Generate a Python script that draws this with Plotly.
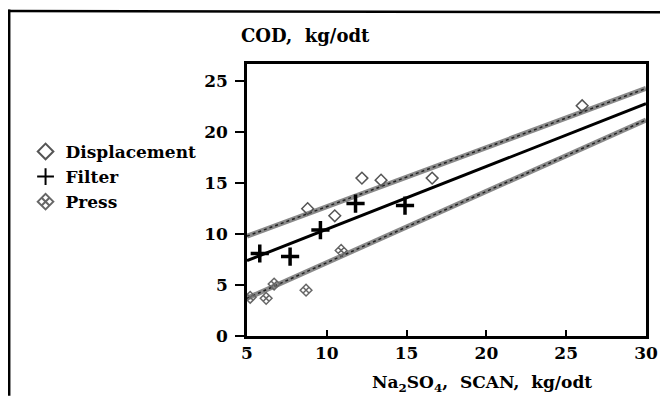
import plotly.graph_objects as go

# Data
disp_x = [8.8, 10.5, 12.2, 13.4, 16.6, 26.0]
disp_y = [12.5, 11.8, 15.5, 15.3, 15.5, 22.6]
filt_x = [5.8, 7.7, 9.6, 11.8, 14.9]
filt_y = [8.1, 7.8, 10.4, 13.0, 12.8]
press_x = [5.2, 6.2, 6.7, 8.7, 10.9]
press_y = [3.8, 3.7, 5.1, 4.5, 8.4]

line_x = [5, 30]
disp_fit = [9.8, 24.3]
filt_fit = [7.4, 22.8]
press_fit = [3.7, 21.2]

x_ticks = [5, 10, 15, 20, 25, 30]
y_ticks = [0, 5, 10, 15, 20, 25]

FONT = "DejaVu Serif"
TXT = dict(family=FONT, size=17, color="black", weight="bold")
fig = go.Figure()

# Fitted lines (hatched style approximated)
for fy in [disp_fit, press_fit]:
    fig.add_trace(go.Scatter(x=line_x, y=fy, mode="lines",
                             line=dict(color="#8a8a8a", width=5),
                             showlegend=False, hoverinfo="skip"))
    fig.add_trace(go.Scatter(x=line_x, y=fy, mode="lines",
                             line=dict(color="#222222", width=1.5, dash="dot"),
                             showlegend=False, hoverinfo="skip"))
fig.add_trace(go.Scatter(x=line_x, y=filt_fit, mode="lines",
                         line=dict(color="black", width=3),
                         showlegend=False, hoverinfo="skip"))

# Points (with legend)
fig.add_trace(go.Scatter(x=disp_x, y=disp_y, mode="markers", name="Displacement",
                         marker=dict(symbol="diamond-open", size=9,
                                     color="#555555", line=dict(width=1.5))))
fig.add_trace(go.Scatter(x=filt_x, y=filt_y, mode="markers", name="Filter",
                         marker=dict(symbol="cross-thin-open", size=13,
                                     color="black", line=dict(width=3.5))))
fig.add_trace(go.Scatter(x=press_x, y=press_y, mode="markers", name="Press",
                         marker=dict(symbol="diamond-x-open", size=9,
                                     color="#666666", line=dict(width=1.5))))

# Page has an 8px body margin, so the figure is 660x388 and shifted by 8px.
fig.update_layout(
    width=660, height=388,
    margin=dict(l=239, r=22, t=56, b=60, autoexpand=False),
    plot_bgcolor="white", paper_bgcolor="white",
    font=TXT,
    showlegend=True,
    legend=dict(x=-0.555, y=0.585, xanchor="left", yanchor="middle",
                font=TXT, bgcolor="rgba(0,0,0,0)", tracegroupgap=0,
                itemsizing="constant"),
    xaxis=dict(range=[5, 30], tickvals=x_ticks, ticks="inside", ticklen=6,
               tickwidth=1.5, tickcolor="black", showline=True, linewidth=2.5,
               linecolor="black", mirror=True, showgrid=False, zeroline=False,
               tickfont=TXT),
    yaxis=dict(range=[0, 26.7], tickvals=y_ticks, ticks="outside", ticklen=9,
               tickwidth=1.5, tickcolor="black", showline=True, linewidth=2.5,
               linecolor="black", mirror=True, showgrid=False, zeroline=False,
               tickfont=TXT, ticklabelstandoff=4),
    annotations=[
        dict(text="COD,  kg/odt", xref="paper", yref="paper", x=-0.02, y=1.0,
             xanchor="left", yanchor="middle", yshift=29, showarrow=False,
             font=dict(family=FONT, size=18, color="black", weight="bold")),
        dict(text="Na<sub>2</sub>SO<sub>4</sub>,  SCAN,  kg/odt", xref="paper",
             yref="paper", x=0.59, y=0, xanchor="center", yanchor="middle",
             yshift=-47, showarrow=False,
             font=dict(family=FONT, size=17, color="black", weight="bold")),
    ],
    shapes=[
        dict(type="line", xref="paper", yref="paper", x0=-0.596, x1=-0.596,
             y0=-0.22, y1=1.2, line=dict(color="black", width=2.5)),
        dict(type="line", xref="paper", yref="paper", x0=-0.6, x1=1.06,
             y0=1.195, y1=1.19, line=dict(color="black", width=2.5)),
    ],
)

fig.write_html("out.html")
